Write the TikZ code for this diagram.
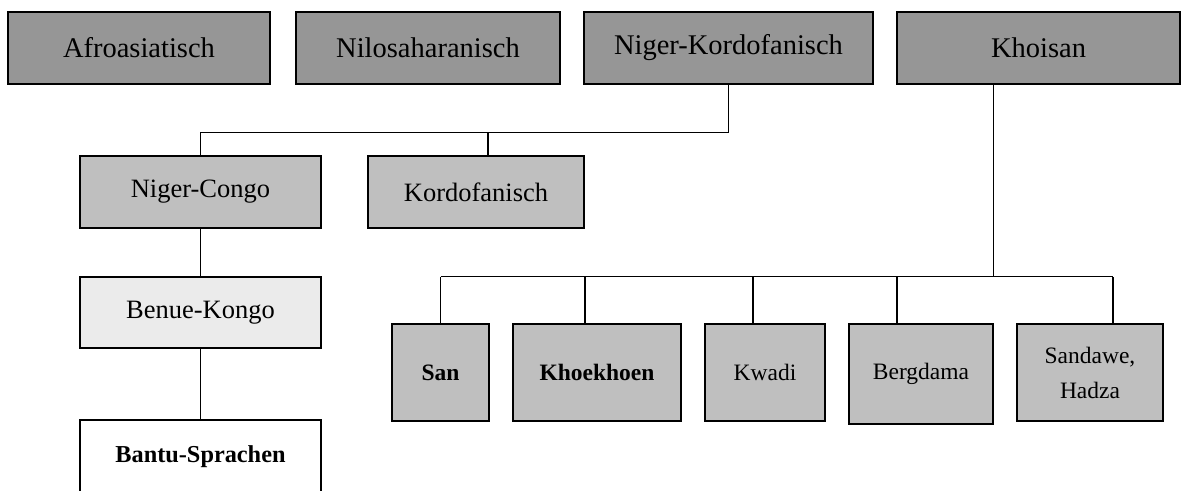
\documentclass[tikz,border=0pt]{standalone}
\usepackage{fontspec}
\setmainfont{Liberation Serif}
\usepackage{tikz}
\usetikzlibrary{positioning, calc}
\definecolor{famgray}{gray}{0.59}
\definecolor{subgray}{gray}{0.75}
\definecolor{branchgray}{gray}{0.92}
\tikzstyle{family} = [rectangle, draw, fill=famgray, text centered,
                      minimum height=72pt, line width=1.6pt,
                      font=\fontsize{28.5}{34}\selectfont]
\tikzstyle{group}  = [rectangle, draw, fill=subgray, text centered,
                      minimum height=72pt, line width=1.6pt,
                      font=\fontsize{26.5}{32}\selectfont]
\tikzstyle{lang}   = [rectangle, draw, fill=subgray, align=center,
                      minimum height=97pt, line width=1.6pt,
                      font=\fontsize{23.5}{35}\selectfont]
\tikzstyle{link}   = [line width=1.3pt]

\begin{document}
\begin{tikzpicture}[x=1pt, y=-1pt]
  \clip (0,0) rectangle (1182,490);

  % top row
  \node[family, minimum width=262pt] (afro) at (139,48) {Afroasiatisch};
  \node[family, minimum width=264pt] (nilo) at (428,48) {Nilosaharanisch};
  \node[family, minimum width=289pt] (nigk) at (728.5,48) {Niger-Kordofanisch};
  \node[family, minimum width=283pt] (khoi) at (1038.5,48) {Khoisan};

  % Niger-Kordofanisch branch
  \node[group, minimum width=241pt] (ncongo) at (200.5,192) {Niger-Congo};
  \node[group, minimum width=216pt] (kordo) at (476,192) {Kordofanisch};
  \node[group, fill=branchgray, minimum width=241pt, minimum height=71pt]
    (benue) at (200.5,312.5) {Benue-Kongo};
  \node[group, fill=white, minimum width=241pt, minimum height=74pt,
    font=\fontsize{24.3}{30}\selectfont\bfseries] (bantu) at (200.5,457) {Bantu-Sprachen};

  % Khoisan branch
  \node[lang, minimum width=97pt, font=\fontsize{23.5}{35}\selectfont\bfseries]
    (san) at (440.5,372.5) {San};
  \node[lang, minimum width=168pt, font=\fontsize{23.5}{35}\selectfont\bfseries]
    (khoe) at (597,372.5) {Khoekhoen};
  \node[lang, minimum width=120pt] (kwadi) at (765,372.5) {Kwadi};
  \node[lang, minimum width=144pt, minimum height=100pt] (berg) at (921,374) {Bergdama};
  \node[lang, minimum width=146pt] (sandh) at (1090,372.5) {Sandawe,\\Hadza};

  \draw[link] (nigk.south) -- ++(0,48) coordinate (nkbar) -| (ncongo.north);
  \draw[link] ([xshift=12pt]kordo.north) -- ([xshift=12pt]kordo.north |- nkbar);
  \draw[link] (ncongo) -- (benue);
  \draw[link] (benue) -- (bantu);

  \draw[link] (berg.east |- khoi.south) -- ++(0,192) coordinate (kbar);
  \draw[link] (san.north |- kbar) -- ([xshift=23pt]sandh.north |- kbar);
  \foreach \n/\dx in {san/0, khoe/-12, kwadi/-12, berg/-24, sandh/23}
    \draw[link] ([xshift=\dx pt]\n.north) -- ([xshift=\dx pt]\n.north |- kbar);
\end{tikzpicture}
\end{document}
